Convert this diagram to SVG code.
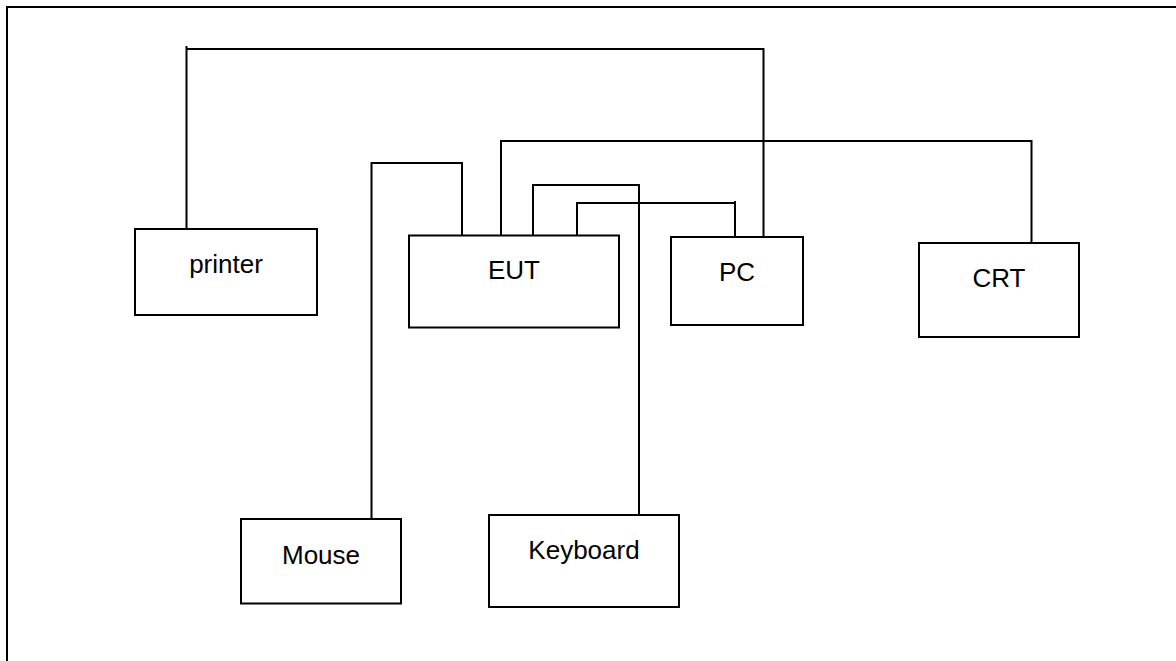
<svg xmlns="http://www.w3.org/2000/svg" width="1176" height="661" viewBox="0 0 1176 661">
<style>
.box{fill:#fff;stroke:#000;stroke-width:2}
.ln{fill:none;stroke:#000;stroke-width:2}
text{font-family:"Liberation Sans",Arial,sans-serif;font-size:26px;fill:#000;text-anchor:middle}
</style>
<rect width="1176" height="661" fill="#fff"/>
<path class="ln" d="M7,661 V7 H1176"/>
<g id="connectors">
<path class="ln" d="M186.5,229 V46 M186.5,49 H763.5 V237"/>
<path class="ln" d="M501,235 V141 H1031.5 V243"/>
<path class="ln" d="M371.5,519 V163 H462 V235"/>
<path class="ln" d="M533,235 V185 H639 V517"/>
<path class="ln" d="M577,238 V203 H735 V237 M735,201 V204"/>
</g>
<g id="printer"><rect class="box" x="135" y="229" width="182" height="86"/><text x="226" y="273">printer</text></g>
<g id="eut"><rect class="box" x="409" y="235.5" width="210" height="92"/><text x="514" y="279">EUT</text></g>
<g id="pc"><rect class="box" x="671" y="237" width="132" height="88"/><text x="737" y="281">PC</text></g>
<g id="crt"><rect class="box" x="919" y="243" width="160" height="94"/><text x="999" y="286.5">CRT</text></g>
<g id="mouse"><rect class="box" x="241" y="519" width="160" height="84.5"/><text x="321" y="564">Mouse</text></g>
<g id="keyboard"><rect class="box" x="489" y="515" width="190" height="92"/><text x="584" y="559">Keyboard</text></g>
</svg>
